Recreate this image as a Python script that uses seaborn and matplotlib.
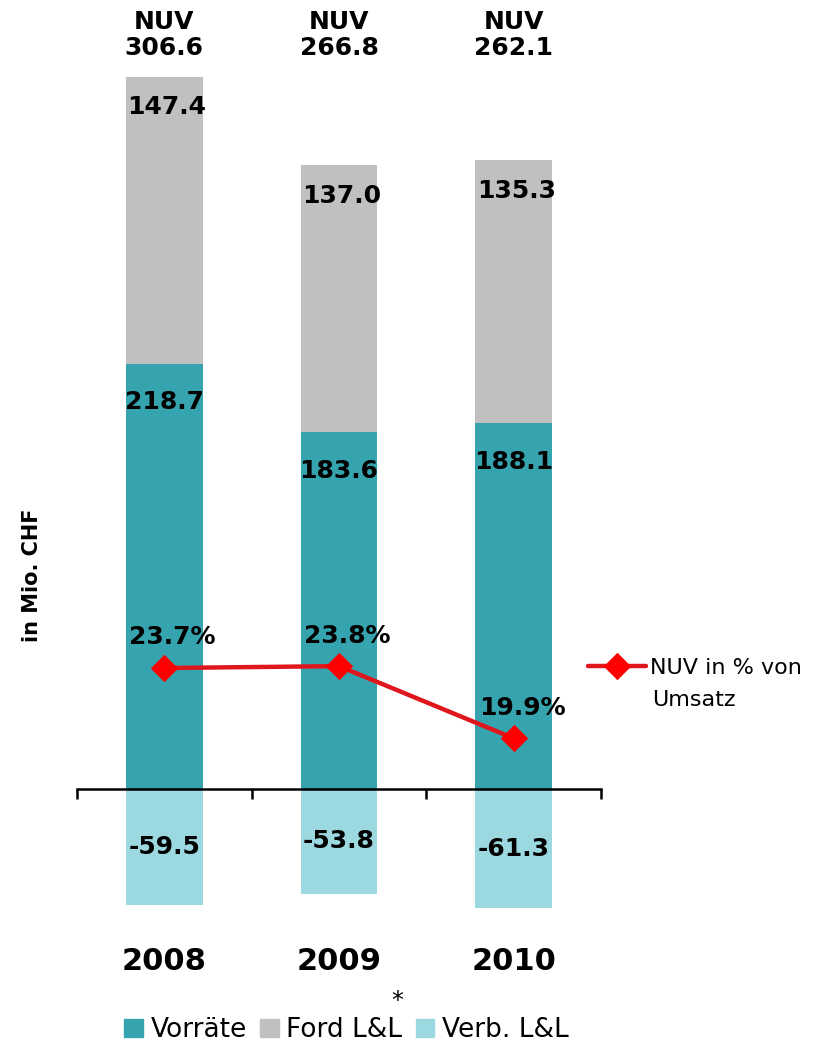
import matplotlib
matplotlib.use("Agg")
import matplotlib.pyplot as plt
import matplotlib.transforms as mtransforms
from matplotlib.patches import Patch
import seaborn as sns
import pandas as pd
import numpy as np

# Data
years = ["2008", "2009", "2010"]
vorraete = [218.7, 183.6, 188.1]
ford_ll = [147.4, 137.0, 135.3]
verb_ll = [-59.5, -53.8, -61.3]
nuv = [306.6, 266.8, 262.1]
nuv_pct = [23.7, 23.8, 19.9]

c_vorr = "#36A4AF"
c_ford = "#C0C0C0"
c_verb = "#9CD8DF"
c_line = "#E0161D"

df = pd.DataFrame({"year": years, "vorr": vorraete, "ford": ford_ll, "verb": verb_ll,
                   "nuv": nuv, "pct": nuv_pct})
df["top"] = df["vorr"] + df["ford"]
df["pos"] = np.arange(len(df))

sns.set_theme(style="white")
plt.rcParams["font.family"] = ["DejaVu Sans"]
plt.rcParams["text.color"] = "black"

fig = plt.figure(figsize=(8.35, 10.45), dpi=100)
ax = fig.add_axes([77 / 835, 0.0589, (601 - 77) / 835, 0.912])

# stacked bars drawn as overlays
bw = 0.44
for col, c in [("top", c_ford), ("vorr", c_vorr), ("verb", c_verb)]:
    sns.barplot(data=df, x="year", y=col, color=c, width=bw, saturation=1,
                linewidth=0, edgecolor="none", ax=ax)

ax.set_ylim(-100, 390)
ax.set_xlim(-0.5, 2.5)
for s in ["top", "right", "left"]:
    ax.spines[s].set_visible(False)
ax.spines["bottom"].set_position(("data", 0))
ax.spines["bottom"].set_color("black")
ax.spines["bottom"].set_linewidth(1.8)
ax.set_yticks([])
ax.set_xticks([-0.5, 0.5, 1.5, 2.5])
ax.set_xticklabels([])
ax.tick_params(axis="x", direction="out", length=7, width=1.8, color="black", bottom=True)
ax.set_xlabel("")
ax.set_ylabel("")

# value labels
for _, r in df.iterrows():
    ax.annotate(f"{r['ford']:.1f}", xy=(r["pos"], r["top"]), xytext=(2, -22),
                textcoords="offset points", ha="center", va="center",
                fontsize=18, fontweight="bold")
    ax.annotate(f"{r['vorr']:.1f}", xy=(r["pos"], r["vorr"]), xytext=(0, -28),
                textcoords="offset points", ha="center", va="center",
                fontsize=18, fontweight="bold")
    ax.text(r["pos"], r["verb"] / 2, f"{r['verb']:.1f}", ha="center", va="center",
            fontsize=18, fontweight="bold")

# NUV totals and year labels
trans = mtransforms.blended_transform_factory(ax.transData, fig.transFigure)
for _, r in df.iterrows():
    ax.text(r["pos"], 1 - 22 / 1045, "NUV", transform=trans, ha="center", va="center",
            fontsize=18, fontweight="bold")
    ax.text(r["pos"], 1 - 48 / 1045, f"{r['nuv']:.1f}", transform=trans, ha="center",
            va="center", fontsize=18, fontweight="bold")
    ax.text(r["pos"], 1 - 962 / 1045, r["year"], transform=trans, ha="center",
            va="center", fontsize=22, fontweight="bold")

# percentage line on secondary axis
ax2 = ax.twinx()
sns.lineplot(data=df, x="pos", y="pct", color=c_line, linewidth=3.2, marker="D",
             markersize=13, markerfacecolor="#FF0000", markeredgecolor="#FF0000",
             label="NUV in % von", ax=ax2)
ax2.set_ylim(6.65, 58.16)
ax2.set_xlim(-0.5, 2.5)
ax2.axis("off")
for _, r in df.iterrows():
    ax2.annotate(f"{r['pct']:.1f}%", xy=(r["pos"], r["pct"]), xytext=(6, 22),
                 textcoords="offset points", ha="center", va="center",
                 fontsize=18, fontweight="bold")

ax2.legend(loc="center left", bbox_to_anchor=(588 / 835, 1 - 668 / 1045),
           bbox_transform=fig.transFigure, frameon=False, fontsize=16,
           handlelength=2.6, handletextpad=0.2, borderaxespad=0, borderpad=0)
fig.text(652 / 835, 1 - 700 / 1045, "Umsatz", ha="left", va="center", fontsize=16)

# y label
fig.text(32 / 835, 1 - 575 / 1045, "in Mio. CHF", rotation=90, ha="center", va="center",
         fontsize=15, fontweight="bold")

# bottom legend
handles = [Patch(color=c_vorr, label="Vorräte"), Patch(color=c_ford, label="Ford L&L"),
           Patch(color=c_verb, label="Verb. L&L")]
fig.legend(handles=handles, loc="lower center", bbox_to_anchor=(0.415, -0.021), ncol=3,
           frameon=False, fontsize=19, handlelength=0.7, handleheight=0.7,
           handletextpad=0.3, columnspacing=0.5)
fig.text(397 / 835, 1 - 1001 / 1045, "*", ha="center", va="center", fontsize=17)

fig.savefig("out.png", dpi=100)
